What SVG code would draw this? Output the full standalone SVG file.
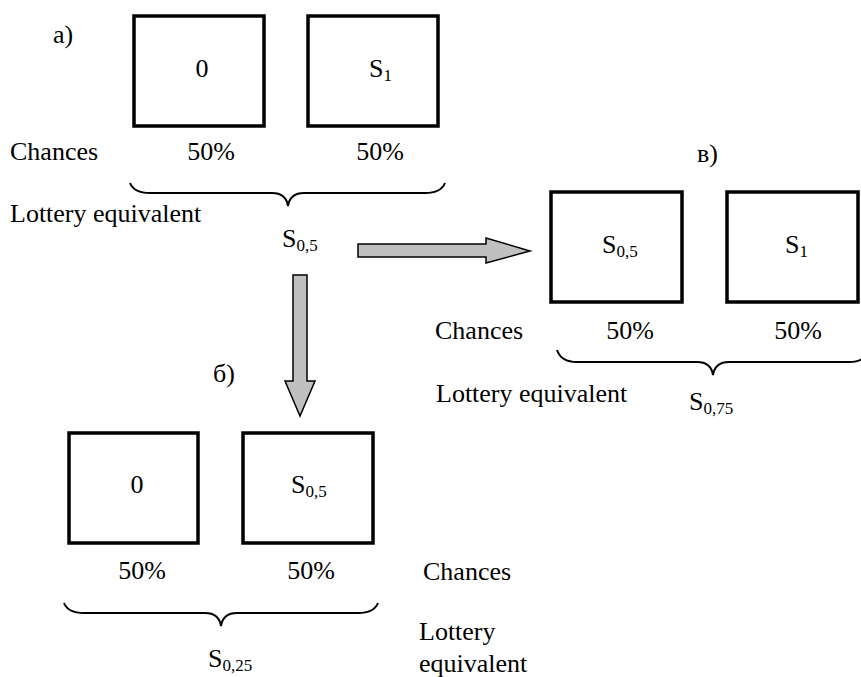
<svg xmlns="http://www.w3.org/2000/svg" width="861" height="677" viewBox="0 0 861 677">
<style>
.box{fill:#fff;stroke:#000;stroke-width:3.5}
.t{font-family:'Liberation Serif',serif;font-size:26px;fill:#000}
.m{text-anchor:middle}
.sub{font-size:17px}
.brace{fill:none;stroke:#000;stroke-width:2}
.arr{fill:#c0c0c0;stroke:#000;stroke-width:1.5;stroke-linejoin:miter}
</style>
<rect width="861" height="677" fill="#fff"/>

<!-- a) -->
<text class="t" x="53" y="43">a)</text>
<g id="a_box0">
<rect class="box" x="134" y="16" width="130" height="110"/>
<text class="t m" x="202" y="77">0</text>
</g>
<g id="a_boxS1">
<rect class="box" x="308" y="16" width="130" height="110"/>
<text class="t" x="369" y="77">S<tspan class="sub" dy="4">1</tspan></text>
</g>
<text class="t" x="10" y="160">Chances</text>
<text class="t m" x="211" y="160">50%</text>
<text class="t m" x="380" y="160">50%</text>
<path class="brace" d="M130,183 Q134,193 150,193 L272,193 Q286,193 288,206 Q290,193 304,193 L425,193 Q441,193 445,183"/>
<text class="t" x="10" y="222">Lottery equivalent</text>
<text class="t" x="282" y="247">S<tspan class="sub" dy="4">0,5</tspan></text>

<!-- в) -->
<text class="t" x="697" y="162">в)</text>
<g id="v_boxS05">
<rect class="box" x="551" y="192" width="131" height="110"/>
<text class="t" x="602" y="253">S<tspan class="sub" dy="4">0,5</tspan></text>
</g>
<g id="v_boxS1">
<rect class="box" x="727" y="192" width="131" height="110"/>
<text class="t" x="785" y="253">S<tspan class="sub" dy="4">1</tspan></text>
</g>
<text class="t" x="435" y="339">Chances</text>
<text class="t m" x="630" y="339">50%</text>
<text class="t m" x="798" y="339">50%</text>
<path class="brace" d="M557,350 Q561,362 577,362 L697,362 Q711,362 713,375 Q715,362 729,362 L849,362 Q865,362 869,350"/>
<text class="t" x="436" y="402">Lottery equivalent</text>
<text class="t" x="689" y="410">S<tspan class="sub" dy="4">0,75</tspan></text>

<!-- б) -->
<text class="t" x="213" y="382">б)</text>
<g id="b_box0">
<rect class="box" x="69" y="433" width="129" height="110"/>
<text class="t m" x="137" y="493">0</text>
</g>
<g id="b_boxS05">
<rect class="box" x="243" y="433" width="130" height="110"/>
<text class="t" x="291" y="493">S<tspan class="sub" dy="4">0,5</tspan></text>
</g>
<text class="t m" x="142" y="579">50%</text>
<text class="t m" x="311" y="579">50%</text>
<text class="t" x="423" y="580">Chances</text>
<path class="brace" d="M64,603 Q68,613 84,613 L205,613 Q219,613 221,626 Q223,613 237,613 L358,613 Q374,613 378,603"/>
<text class="t" x="208" y="667">S<tspan class="sub" dy="4">0,25</tspan></text>
<text class="t" x="419" y="640">Lottery</text>
<text class="t" x="419" y="672">equivalent</text>

<g id="connectors">
<polygon class="arr" points="358,244 486,244 486,238 530,251 486,263 486,257 358,257"/>
<polygon class="arr" points="293,275 307,275 307,381 315,381 300,416 285,381 293,381"/>
</g>
</svg>
